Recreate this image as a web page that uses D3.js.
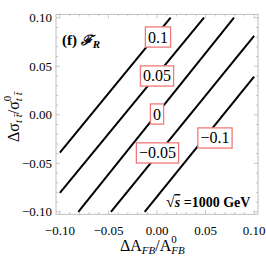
<!DOCTYPE html>
<html><head><meta charset="utf-8">
<script src="https://cdn.jsdelivr.net/npm/d3@7"></script>
<style>body{margin:0;background:#fff}svg{display:block}</style>
</head><body>
<script>
// Contour levels and the end points of each (straight) contour
const levels = [0.1, 0.05, 0, -0.05, -0.1];
const levelLabels = ["0.1", "0.05", "0", "\u22120.05", "\u22120.1"];
const x0s = [-0.1, -0.1, -0.081, -0.0474, -0.0127];
const y0s = [-0.039, -0.0805, -0.1, -0.1, -0.1];
const x1s = [0.014, 0.0484, 0.0793, 0.1, 0.1];
const y1s = [0.1, 0.1, 0.1, 0.0812, 0.0393];
// label anchor positions (data coords)
const labX = [0.001, 0.0, 0.0, 0.0005, 0.0597];
const labY = [0.0801, 0.040, 0.0008, -0.0393, -0.0239];
const majorTicks = [-0.10, -0.05, 0.00, 0.05, 0.10];
const tickLabels = ["\u22120.10", "\u22120.05", "0.00", "0.05", "0.10"];

const W = 266, H = 266;
const svg = d3.select("body").append("svg").attr("width", W).attr("height", H);
const x = d3.scaleLinear().domain([-0.104, 0.104]).range([56, 258]);
const y = d3.scaleLinear().domain([-0.1025, 0.1035]).range([214.3, 14.3]);

const frameCol = "#b0b0b0";
// frame
svg.append("rect").attr("x", x(-0.104)).attr("y", y(0.1035))
  .attr("width", x(0.104) - x(-0.104)).attr("height", y(-0.1025) - y(0.1035))
  .attr("fill", "none").attr("stroke", frameCol).attr("stroke-width", 0.8);

// ticks (inward, all four sides)
const minor = d3.range(-10, 11).map(i => i / 100);
const g = svg.append("g").attr("stroke", frameCol).attr("stroke-width", 0.7);
minor.forEach(v => {
  const isMajor = Math.abs(Math.round(v * 100) % 5) === 0;
  const L = isMajor ? 4 : 2.2;
  const yb = y(-0.1025), yt = y(0.1035), xl = x(-0.104), xr = x(0.104);
  g.append("line").attr("x1", x(v)).attr("x2", x(v)).attr("y1", yb).attr("y2", yb - L);
  g.append("line").attr("x1", x(v)).attr("x2", x(v)).attr("y1", yt).attr("y2", yt + L);
  g.append("line").attr("y1", y(v)).attr("y2", y(v)).attr("x1", xl).attr("x2", xl + L);
  g.append("line").attr("y1", y(v)).attr("y2", y(v)).attr("x1", xr).attr("x2", xr - L);
});

const serif = "'Liberation Serif','Times New Roman',serif";
// tick labels
majorTicks.forEach((v, i) => {
  svg.append("text").attr("x", x(v)).attr("y", 235).attr("text-anchor", "middle")
    .attr("font-family", serif).attr("font-size", 13).text(tickLabels[i]);
  svg.append("text").attr("x", 52).attr("y", y(v) + 4.5).attr("text-anchor", "end")
    .attr("font-family", serif).attr("font-size", 13).text(tickLabels[i]);
});

// contour lines
levels.forEach((lv, i) => {
  svg.append("line").attr("x1", x(x0s[i])).attr("y1", y(y0s[i]))
    .attr("x2", x(x1s[i])).attr("y2", y(y1s[i]))
    .attr("stroke", "#000").attr("stroke-width", 2);
});

// contour labels with boxes
levels.forEach((lv, i) => {
  const t = svg.append("text").attr("x", x(labX[i])).attr("y", y(labY[i]) + 5.5)
    .attr("text-anchor", "middle").attr("font-family", serif).attr("font-size", 16)
    .text(levelLabels[i]);
  const bb = t.node().getBBox();
  const p = 2.6;
  svg.insert("rect", () => t.node()).attr("x", bb.x - p).attr("y", bb.y - p + 1)
    .attr("width", bb.width + 2 * p).attr("height", bb.height + 2 * p - 2)
    .attr("fill", "#fff").attr("stroke", "#f07a7a").attr("stroke-width", 1.3);
});

// panel title
const tt = svg.append("text").attr("x", 62).attr("y", 45).attr("font-family", serif)
  .attr("font-size", 15).attr("font-weight", "bold");
tt.append("tspan").text("(f) ");
tt.append("tspan").attr("font-family", "'DejaVu Serif',serif").attr("font-style", "italic").attr("font-size", 14).text("\u2131");
tt.append("tspan").attr("font-style", "italic").attr("font-size", 11).attr("dy", 3).text("R");

// sqrt(s) annotation
const st = svg.append("text").attr("x", 166).attr("y", 207).attr("font-family", serif)
  .attr("font-size", 14).attr("font-weight", "bold");
st.append("tspan").attr("font-size", 16).text("\u221A");
st.append("tspan").attr("font-style", "italic").attr("text-decoration", "overline").text("s");
st.append("tspan").text(" =1000 GeV");

// x-axis label
const xl = svg.append("text").attr("x", 120).attr("y", 251).attr("font-family", serif).attr("font-size", 16);
xl.append("tspan").text("\u0394A");
xl.append("tspan").attr("font-style", "italic").attr("font-size", 11).attr("dy", 3).text("FB");
xl.append("tspan").attr("dy", -3).text("/A");
xl.append("tspan").attr("font-size", 11).attr("dy", -8).text("0");
xl.append("tspan").attr("font-style", "italic").attr("font-size", 11).attr("dx", -5.5).attr("dy", 11).text("FB");

// y-axis label (rotated)
const yl = svg.append("text").attr("transform", "translate(19,142) rotate(-90)")
  .attr("font-family", serif).attr("font-size", 16);
yl.append("tspan").text("\u0394\u03C3");
yl.append("tspan").attr("font-style", "italic").attr("font-size", 11).attr("dy", 3).text("t t\u0304");
yl.append("tspan").attr("dy", -3).text("/\u03C3");
yl.append("tspan").attr("font-size", 11).attr("dy", -8).text("0");
yl.append("tspan").attr("font-style", "italic").attr("font-size", 11).attr("dx", -5.5).attr("dy", 11).text("t t\u0304");
</script>
</body></html>
